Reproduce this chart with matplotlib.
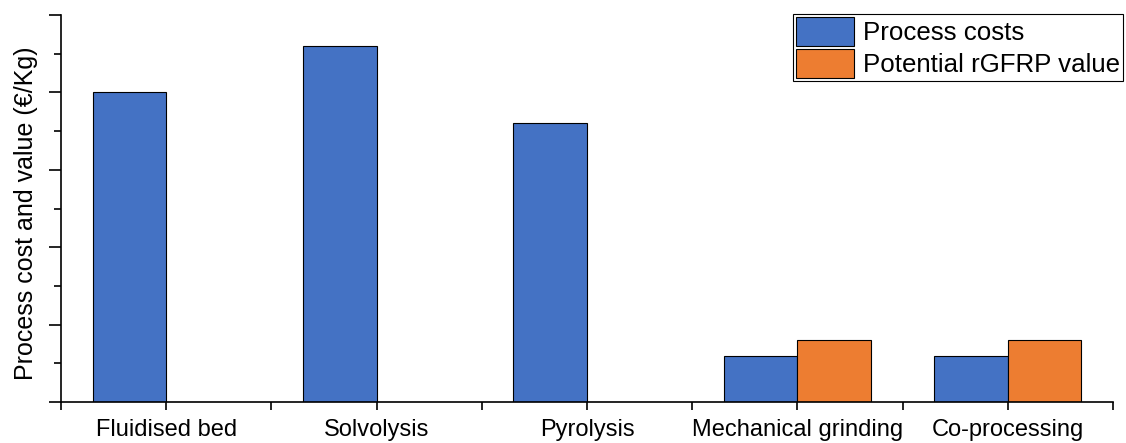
import numpy as np
import matplotlib as mpl
mpl.use('Agg')
import matplotlib.pyplot as plt
from matplotlib.ticker import MultipleLocator

mpl.rcParams.update({
    'font.family': ['Liberation Sans', 'DejaVu Sans'],
    'font.size': 17,
})

categories = ['Fluidised bed', 'Solvolysis', 'Pyrolysis',
              'Mechanical grinding', 'Co-processing']
process_costs = [4.0, 4.6, 3.6, 0.6, 0.6]
rgfrp_value = [0, 0, 0, 0.8, 0.8]

blue = '#4472c4'
orange = '#ed7d31'

fig = plt.figure(figsize=(11.26, 4.43), dpi=100)
ax = fig.add_axes([61/1126, 1-402/443, (1113-61)/1126, (402-15)/443])

x = np.arange(len(categories))
w = 0.35
ax.bar(x - w/2, process_costs, w, color=blue, edgecolor='black', lw=0.8,
       label='Process costs')
ax.bar(x + w/2, rgfrp_value, w, color=orange, edgecolor='black', lw=0.8,
       label='Potential rGFRP value')

ax.set_xlim(-0.5, len(categories) - 0.5)
ax.set_ylim(0, 5)
ax.set_xticks(x)
ax.set_xticklabels(categories)
ax.set_xticks(np.arange(-0.5, len(categories)), minor=True)
ax.yaxis.set_major_locator(MultipleLocator(1))
ax.yaxis.set_minor_locator(MultipleLocator(0.5))
ax.set_yticklabels([])
ax.set_ylabel('Process cost and value (€/Kg)', fontsize=18)
ax.yaxis.set_label_coords(-0.022, 0.487)

for s in ['top', 'right']:
    ax.spines[s].set_visible(False)
for s in ['left', 'bottom']:
    ax.spines[s].set_linewidth(1.2)

ax.tick_params(axis='x', which='both', direction='out', length=6, width=1.2)
ax.tick_params(axis='x', which='major', pad=6)
ax.tick_params(axis='y', which='major', direction='out', length=9, width=1.2)
ax.tick_params(axis='y', which='minor', direction='out', length=5, width=1.2)

leg = ax.legend(loc='upper right', bbox_to_anchor=(1123/1126, 1-14/443),
                bbox_transform=fig.transFigure, fontsize=18.6, frameon=True,
                fancybox=False, edgecolor='black', framealpha=1,
                borderpad=0.12, labelspacing=0.12, handlelength=2.25,
                handleheight=1.35, handletextpad=0.35, borderaxespad=0)
leg.get_frame().set_linewidth(0.8)

fig.savefig('out.png', dpi=100)
